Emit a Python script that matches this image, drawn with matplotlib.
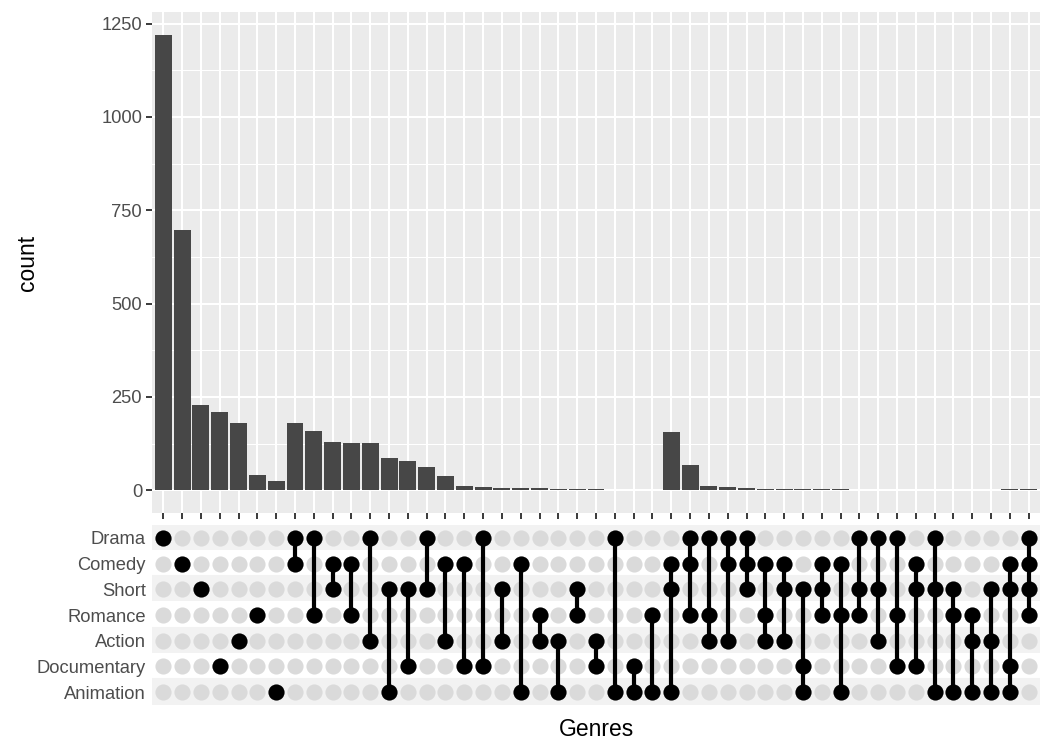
import numpy as np
import matplotlib.pyplot as plt

plt.rcParams['font.family'] = ['Liberation Sans', 'DejaVu Sans']

# genres as listed in the matrix, top to bottom
genres = ["Drama", "Comedy", "Short", "Romance", "Action", "Documentary", "Animation"]

# genre combinations, in plotted order
combos = [
    ("Drama",), ("Comedy",), ("Short",), ("Documentary",), ("Action",), ("Romance",), ("Animation",),
    ("Drama", "Comedy"), ("Drama", "Romance"), ("Comedy", "Short"), ("Comedy", "Romance"),
    ("Drama", "Action"), ("Short", "Animation"), ("Short", "Documentary"), ("Drama", "Short"),
    ("Comedy", "Action"), ("Comedy", "Documentary"), ("Drama", "Documentary"), ("Short", "Action"),
    ("Comedy", "Animation"), ("Romance", "Action"), ("Action", "Animation"), ("Short", "Romance"),
    ("Action", "Documentary"), ("Drama", "Animation"), ("Documentary", "Animation"), ("Romance", "Animation"),
    ("Comedy", "Short", "Animation"), ("Drama", "Comedy", "Romance"), ("Drama", "Romance", "Action"),
    ("Drama", "Comedy", "Action"), ("Drama", "Comedy", "Short"), ("Comedy", "Romance", "Action"),
    ("Comedy", "Short", "Action"), ("Short", "Documentary", "Animation"), ("Comedy", "Short", "Romance"),
    ("Comedy", "Romance", "Animation"), ("Drama", "Short", "Romance"), ("Drama", "Short", "Action"),
    ("Drama", "Romance", "Documentary"), ("Comedy", "Short", "Documentary"), ("Drama", "Short", "Animation"),
    ("Short", "Romance", "Animation"), ("Romance", "Action", "Animation"), ("Short", "Action", "Animation"),
    ("Comedy", "Short", "Documentary", "Animation"), ("Drama", "Comedy", "Short", "Romance"),
]

counts = [1219, 696, 229, 210, 179, 41, 24,
          181, 159, 129, 127, 127, 85, 79, 63, 39, 10, 9, 7, 7, 6, 4, 2, 2, 1, 1, 1,
          156, 68, 11, 8, 6, 4, 4, 3, 3, 2, 1, 1, 1, 1, 1, 1, 1, 1,
          2, 2]

yticks = [0, 250, 500, 750, 1000, 1250]

W, H = 1050, 750
fig = plt.figure(figsize=(7, 5), dpi=150)

def px_axes(left, top, right, bottom):
    return fig.add_axes([left / W, 1 - bottom / H, (right - left) / W, (bottom - top) / H])

n = len(combos)
x = np.arange(n)

# --- bar panel ---
ax = px_axes(152, 12, 1040, 513)
ax.set_facecolor("#EBEBEB")
for s in ax.spines.values():
    s.set_visible(False)
ax.set_axisbelow(True)
ax.bar(x, counts, width=0.9, color="#474747", zorder=3)
ax.set_xlim(-0.6, n - 0.4)
ax.set_ylim(-61, 1281)
ax.set_xticks(x)
ax.set_xticklabels([])
ax.set_yticks(yticks)
ax.set_yticklabels([str(v) for v in yticks])
ax.set_yticks(np.arange(125, 1250, 250), minor=True)
ax.grid(which="major", color="white", lw=1.0)
ax.grid(which="minor", axis="y", color="white", lw=0.5)
ax.tick_params(which="major", length=2.75, width=0.9, color="#333333",
               labelsize=8.8, labelcolor="#4D4D4D", pad=2)
ax.tick_params(which="minor", length=0)
ax.set_ylabel("count", fontsize=11, labelpad=30)

# --- combination matrix ---
mx = px_axes(152, 525, 1040, 705)
for s in mx.spines.values():
    s.set_visible(False)
mx.set_xlim(-0.6, n - 0.4)
mx.set_ylim(len(genres) - 0.5, -0.5)
for i in range(len(genres)):
    mx.axhspan(i - 0.5, i + 0.5, color="#F2F2F2" if i % 2 == 0 else "white", zorder=0)

gx, gy = np.meshgrid(x, np.arange(len(genres)))
mx.scatter(gx.ravel(), gy.ravel(), s=60, color="#DADADA", lw=0, zorder=2)
for k, combo in enumerate(combos):
    rows = [genres.index(g) for g in combo]
    if len(rows) > 1:
        mx.plot([k, k], [min(rows), max(rows)], color="black", lw=2.0, zorder=3)
    mx.scatter([k] * len(rows), rows, s=60, color="black", lw=0, zorder=4)

mx.set_xticks([])
mx.set_yticks(range(len(genres)))
mx.set_yticklabels(genres)
mx.tick_params(length=0, labelsize=8.8, labelcolor="#4D4D4D", pad=3)
mx.set_xlabel("Genres", fontsize=11, labelpad=6)

fig.savefig("out.png", dpi=150)
